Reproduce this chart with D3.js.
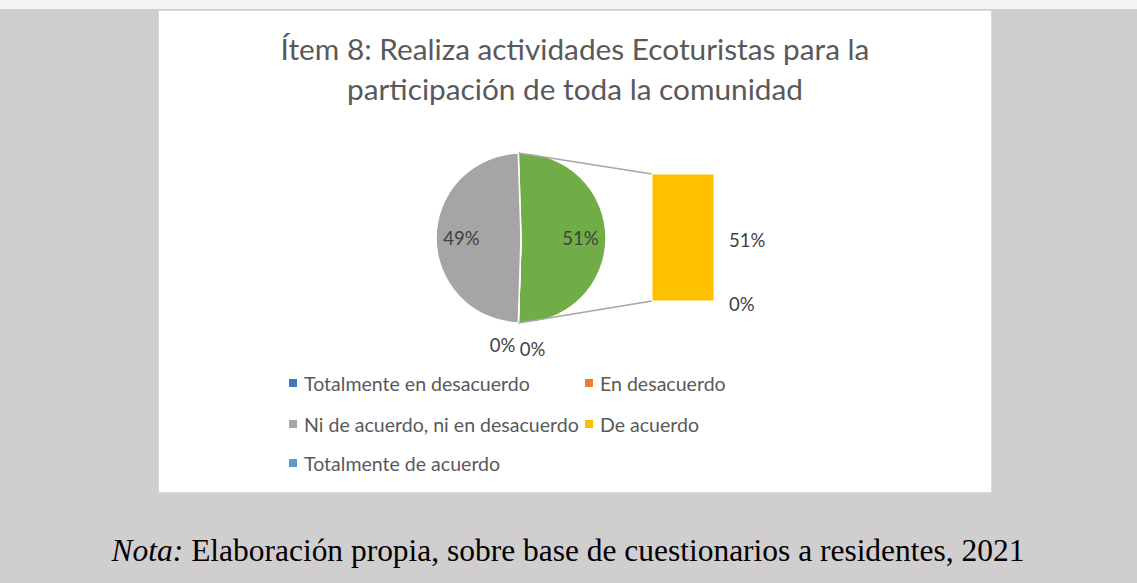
<!DOCTYPE html>
<html>
<head>
<meta charset="utf-8">
<script src="https://cdn.jsdelivr.net/npm/d3@7"></script>
<style>
  body { margin: 0; background: #d0cece; }
  svg { display: block; }
</style>
</head>
<body>
<svg width="1137" height="583"></svg>
<script>
// data
var categories = ["Totalmente en desacuerdo", "En desacuerdo",
                  "Ni de acuerdo, ni en desacuerdo", "De acuerdo",
                  "Totalmente de acuerdo"];
var values = [0, 0, 49, 51, 0];
var colors = ["#4472c4", "#ed7d31", "#a5a5a5", "#ffc000", "#5b9bd5"];
var otherColor = "#70ad47";
var pieItems = [0, 1, 2];   // shown in the pie
var barItems = [3, 4];      // split out into the bar
var titleLines = ["Ítem 8: Realiza actividades Ecoturistas para la",
                  "participación de toda la comunidad"];
var noteLabel = "Nota:";
var noteText = " Elaboración propia, sobre base de cuestionarios a residentes, 2021";

var svg = d3.select("svg"),
    width = +svg.attr("width"),
    height = +svg.attr("height");

var font = "Lato, 'Open Sans', sans-serif";

// fit a text to a target width by scaling its font size
function fit(sel, w) {
  var len = sel.node().getComputedTextLength();
  var fs = parseFloat(sel.attr("font-size"));
  sel.attr("font-size", fs * w / len);
  return fs * w / len;
}

svg.append("rect").attr("width", width).attr("height", height).attr("fill", "#d0cece");
svg.append("rect").attr("width", width).attr("height", 9).attr("fill", "#f4f4f4");

// chart area
svg.append("rect")
    .attr("x", 158.5).attr("y", 10.5).attr("width", 833).attr("height", 482)
    .attr("fill", "#fff").attr("stroke", "#d9d9d9");

// title
var tl = svg.append("g").selectAll("text")
    .data(titleLines).enter().append("text")
    .attr("x", 575)
    .attr("y", function(d, i) { return 48 + i * 40; })
    .attr("text-anchor", "middle")
    .attr("dominant-baseline", "central")
    .attr("font-family", font)
    .attr("font-size", 26)
    .attr("fill", "#595959")
    .text(function(d) { return d; });
var tfs = fit(d3.select(tl.nodes()[0]), 589);
tl.attr("font-size", tfs);

// ---------- pie ----------
var cx = 521, cy = 238, r = 85;
var otherVal = d3.sum(barItems, function(i) { return values[i]; });
var total = d3.sum(values);
var pieData = [{name: "Otro", value: otherVal, color: otherColor}].concat(
  pieItems.map(function(i) { return {name: categories[i], value: values[i], color: colors[i]}; }));

var start = Math.PI / 2 - (otherVal / total) * Math.PI;
var pie = d3.pie().sort(null).value(function(d) { return d.value; })
    .startAngle(start).endAngle(start + 2 * Math.PI);
var arcs = pie(pieData);

var arc = d3.arc().innerRadius(0).outerRadius(r);
var labelArc = d3.arc().innerRadius(r * 0.7).outerRadius(r * 0.7);

var pg = svg.append("g").attr("transform", "translate(" + cx + "," + cy + ")");

// connector lines
var barX = 652, barW = 62;
var y = d3.scaleLinear().domain([0, otherVal]).range([301, 174]);
var pTop = d3.pointRadial(arcs[0].startAngle, r);
var pBot = d3.pointRadial(arcs[0].endAngle, r);
svg.append("line")
    .attr("x1", cx + pTop[0]).attr("y1", cy + pTop[1])
    .attr("x2", barX).attr("y2", y(otherVal))
    .attr("stroke", "#a6a6a6").attr("stroke-width", 1.5);
svg.append("line")
    .attr("x1", cx + pBot[0]).attr("y1", cy + pBot[1])
    .attr("x2", barX).attr("y2", y(0))
    .attr("stroke", "#a6a6a6").attr("stroke-width", 1.5);

pg.selectAll("path").data(arcs).enter().append("path")
    .attr("d", arc)
    .attr("fill", function(d) { return d.data.color; })
    .attr("stroke", "#fff").attr("stroke-width", 1.5);

var lblSize = 18.5;

// labels inside the pie
pg.selectAll("text.in").data(arcs.filter(function(d) { return d.data.value > 0; }))
  .enter().append("text").attr("class", "in")
    .attr("transform", function(d) { return "translate(" + labelArc.centroid(d) + ")"; })
    .attr("text-anchor", "middle").attr("dominant-baseline", "central")
    .attr("font-family", font).attr("font-size", lblSize).attr("fill", "#404040")
    .text(function(d) { return Math.round(d.value / total * 100) + "%"; });

// labels of empty slices, outside at the bottom
var zeros = arcs.filter(function(d) { return d.data.value === 0; });
pg.selectAll("text.out").data(zeros).enter().append("text").attr("class", "out")
    .attr("transform", function(d, i) {
      var p = d3.pointRadial(d.startAngle, r + 22);
      return "translate(" + (p[0] + (i - 0.5) * 30) + "," + (p[1] + i * 4) + ")";
    })
    .attr("text-anchor", "middle").attr("dominant-baseline", "central")
    .attr("font-family", font).attr("font-size", lblSize).attr("fill", "#404040")
    .text("0%");

// ---------- bar ----------
var acc = 0;
var segs = barItems.slice().reverse().map(function(i) {
  var s = {i: i, y0: acc, y1: acc + values[i]};
  acc += values[i];
  return s;
});
svg.append("g").selectAll("rect").data(segs).enter().append("rect")
    .attr("x", barX).attr("width", barW)
    .attr("y", function(d) { return y(d.y1); })
    .attr("height", function(d) { return y(d.y0) - y(d.y1); })
    .attr("fill", function(d) { return colors[d.i]; })
    .attr("stroke", "#fff").attr("stroke-width", 1);
svg.append("g").selectAll("text").data(segs).enter().append("text")
    .attr("x", barX + barW + 15)
    .attr("y", function(d) { return (y(d.y0) + y(d.y1)) / 2 + (d.y1 === d.y0 ? 3 : 2); })
    .attr("dominant-baseline", "central")
    .attr("font-family", font).attr("font-size", lblSize).attr("fill", "#404040")
    .text(function(d) { return Math.round(values[d.i] / total * 100) + "%"; });

// ---------- legend ----------
var colX = [289, 585], rowY = [383, 424, 463];
var lg = svg.append("g").selectAll("g").data(categories).enter().append("g")
    .attr("transform", function(d, i) {
      return "translate(" + colX[i % 2] + "," + rowY[Math.floor(i / 2)] + ")";
    });
lg.append("rect").attr("x", 0).attr("y", -4).attr("width", 8).attr("height", 8)
    .attr("fill", function(d, i) { return colors[i]; });
var lt = lg.append("text").attr("x", 15).attr("dominant-baseline", "central")
    .attr("font-family", font).attr("font-size", 17).attr("fill", "#595959")
    .text(function(d) { return d; });
var lfs = fit(d3.select(lt.nodes()[0]), 226);
lt.attr("font-size", lfs);

// ---------- note ----------
var nt = svg.append("text")
    .attr("x", 568).attr("y", 561)
    .attr("text-anchor", "middle")
    .attr("font-family", "'Liberation Serif', 'Times New Roman', serif")
    .attr("font-size", 25).attr("fill", "#000");
nt.append("tspan").attr("font-style", "italic").text(noteLabel);
nt.append("tspan").text(noteText);
fit(nt, 913);
</script>
</body>
</html>
